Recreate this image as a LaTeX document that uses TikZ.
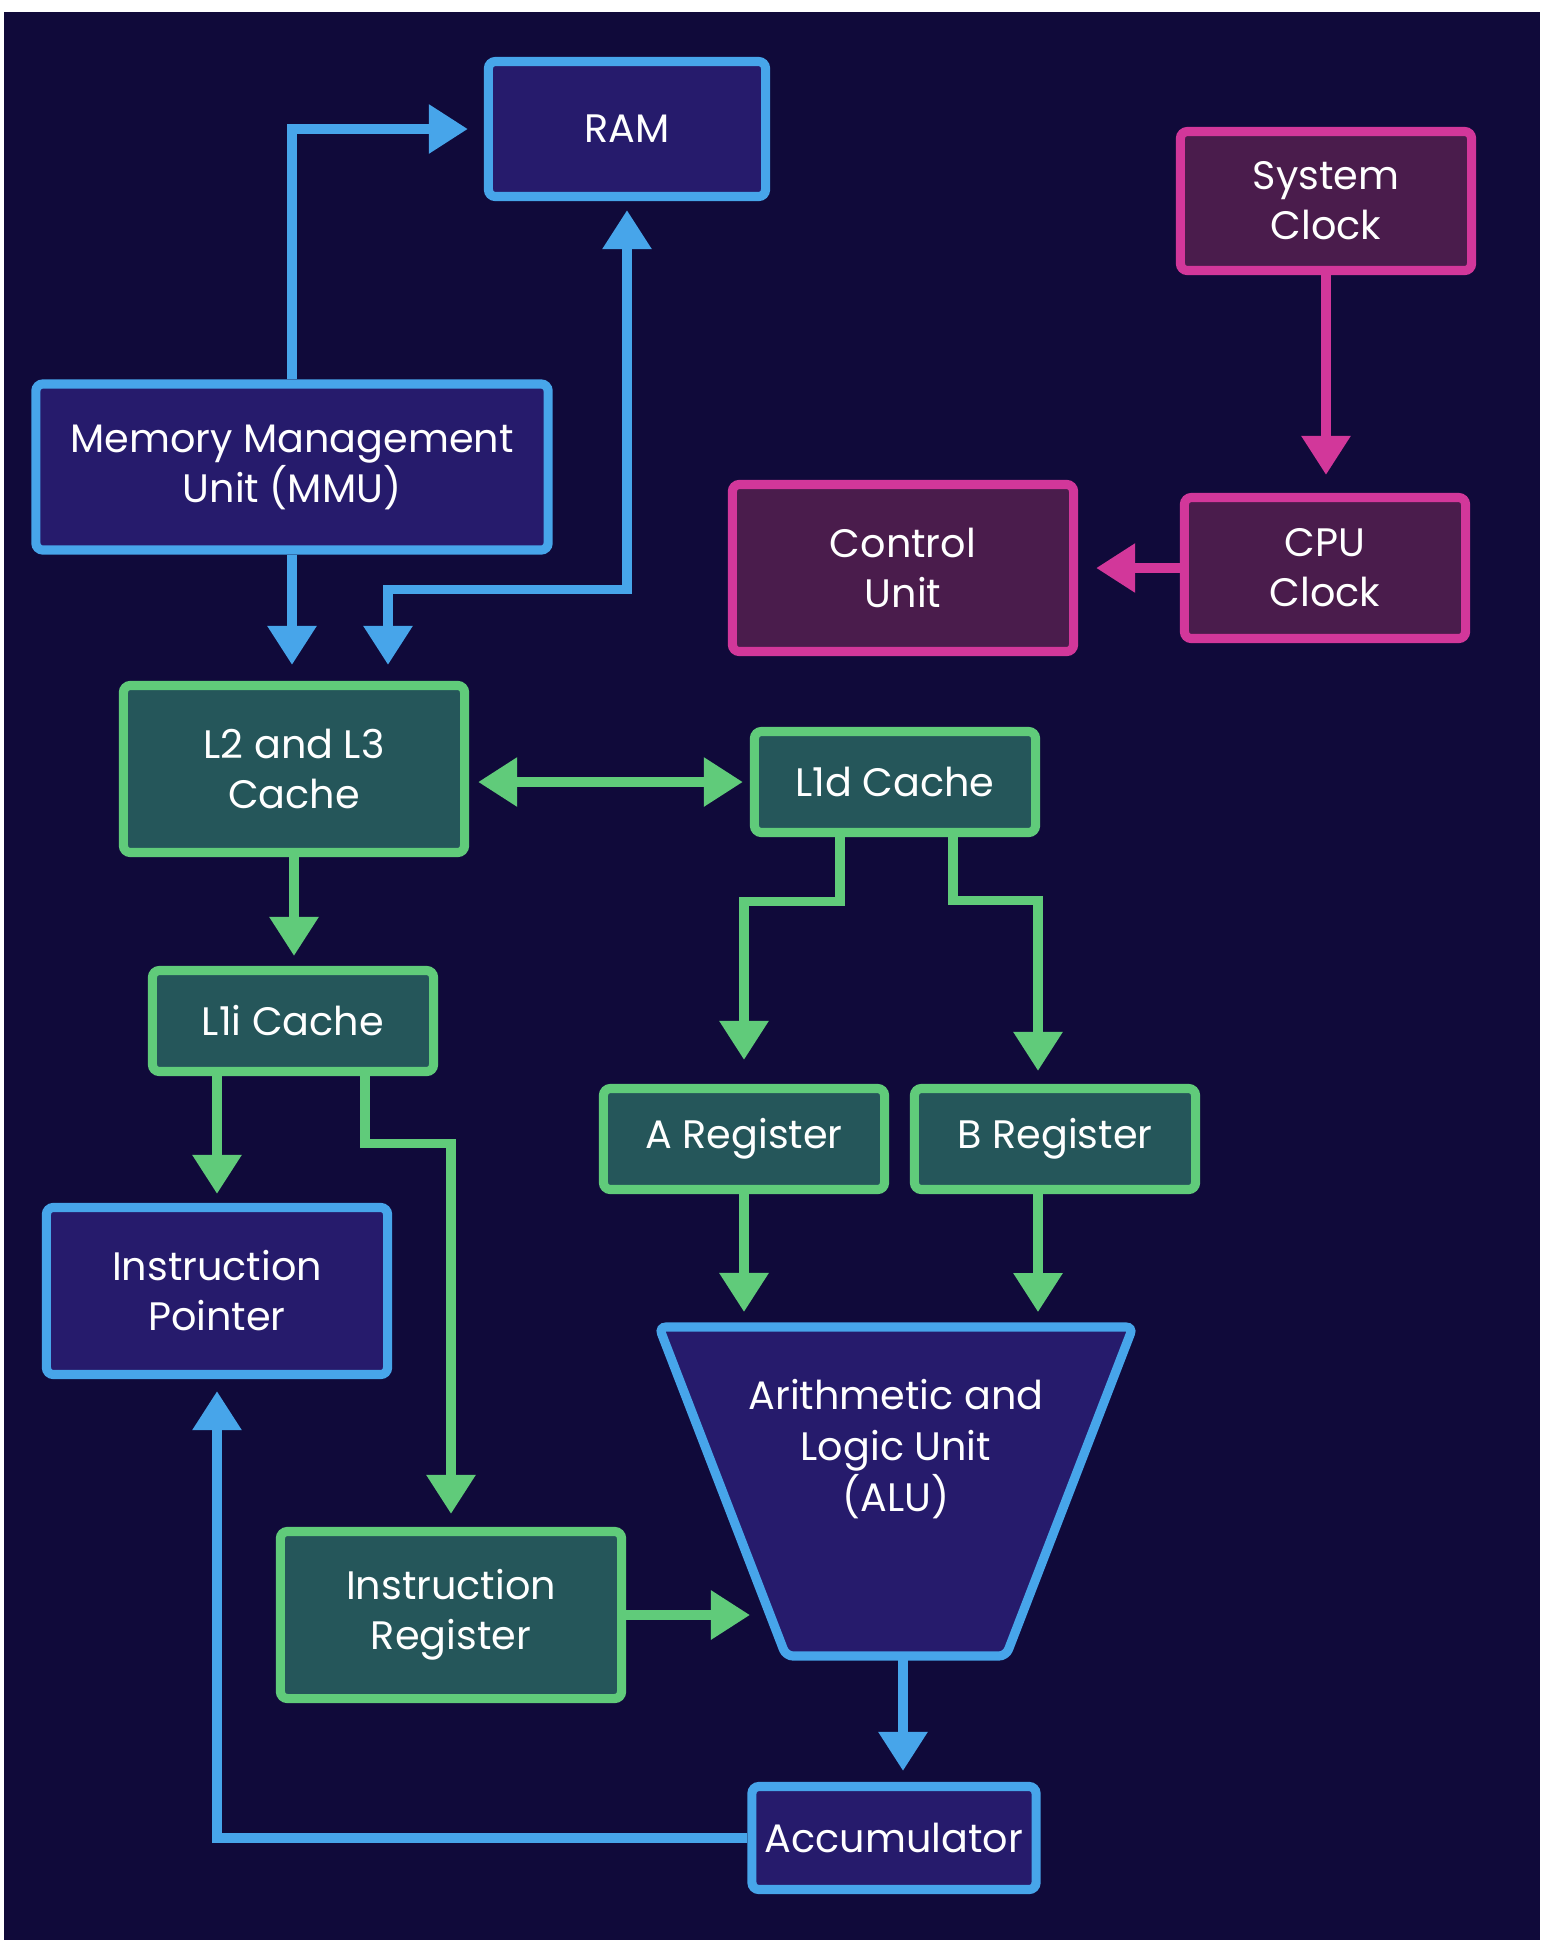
\documentclass[tikz,border=0pt]{standalone}
\usepackage{fontspec}
\setmainfont{Poppins}
\usepackage{tikz}
\usetikzlibrary{arrows.meta, calc}

\definecolor{bgnavy}{HTML}{100A3A}
\definecolor{bluefill}{HTML}{261B6C}
\definecolor{blueline}{HTML}{47A5EA}
\definecolor{greenfill}{HTML}{25565A}
\definecolor{greenline}{HTML}{60CB7A}
\definecolor{pinkfill}{HTML}{4A1C4C}
\definecolor{pinkline}{HTML}{D2379A}

\begin{document}
\begin{tikzpicture}[
    x=0.01cm, y=-0.01cm,
    >={Triangle[length=0.39cm, width=0.47cm]},
    box/.style={
      rectangle, rounded corners=2pt, line width=2.6pt,
      text=white, align=center, inner sep=0pt,
      font=\fontsize{11.3}{14.2}\selectfont
    },
    bbox/.style={box, draw=blueline, fill=bluefill},
    gbox/.style={box, draw=greenline, fill=greenfill},
    pbox/.style={box, draw=pinkline, fill=pinkfill},
    big/.style={minimum width=3.41cm, minimum height=1.67cm},
    small/.style={minimum width=2.81cm, minimum height=1.01cm},
    arr/.style={->, line width=2.6pt},
    arrboth/.style={<->, line width=2.6pt},
    barr/.style={arr, draw=blueline},
    garr/.style={arr, draw=greenline},
    parr/.style={arr, draw=pinkline}
  ]
  % background
  \useasboundingbox (0,0) rectangle (1544,1944);
  \fill[white] (0,0) rectangle (1544,1944);
  \fill[bgnavy] (4,12) rectangle (1540,1940);

  % memory
  \node[bbox, minimum width=2.77cm, minimum height=1.35cm] (ram) at (627,129) {RAM};
  \node[bbox, minimum width=5.12cm, minimum height=1.66cm] (mmu) at (292,467)
        {Memory Management\\Unit (MMU)};

  % clocks
  \node[pbox, minimum width=2.91cm, minimum height=1.39cm] (sysclk) at (1326,201)
        {System\\Clock};
  \node[pbox, minimum width=2.81cm, minimum height=1.41cm] (cpuclk) at (1325,568)
        {CPU\\Clock};
  \node[pbox, big] (ctrl) at (903,568) {Control\\Unit};

  % caches and registers
  \node[gbox, big] (l2) at (294,769) {L2 and L3\\Cache};
  \node[gbox, small] (l1d) at (895,782) {L1d Cache};
  \node[gbox, small] (l1i) at (293,1021) {L1i Cache};
  \node[gbox, small] (areg) at (744,1139) {A Register};
  \node[gbox, small] (breg) at (1055,1139) {B Register};
  \node[bbox, big] (ip) at (217,1291) {Instruction\\Pointer};
  \node[gbox, big] (ir) at (451,1615) {Instruction\\Register};

  % ALU
  \draw[line width=2.6pt, rounded corners=2pt, draw=blueline, fill=bluefill]
    (659,1327) -- (1133,1327) -- (1006,1656) -- (786,1656) -- cycle;
  \node[box, font=\fontsize{11.3}{14.5}\selectfont] (alu) at (896,1449)
        {Arithmetic and\\Logic Unit\\(ALU)};
  \coordinate (alutop) at (897,1323);
  \coordinate (aluleft) at (762,1615);
  \coordinate (alubot) at (903,1660);

  \node[bbox, small, minimum width=2.84cm, minimum height=1.03cm] (acc) at (894,1838)
        {Accumulator};

  \draw[barr, shorten >=0.16cm] (mmu.north) |- (ram.west);
  \draw[arrboth, draw=blueline, shorten <=0.09cm, shorten >=0.16cm]
    (ram.south) -- ++(0,388) -| ($(l2.north)+(94,0)$);
  \draw[barr, shorten >=0.16cm] (mmu.south) -- (mmu.south |- l2.north);

  \draw[parr, shorten >=0.18cm] (sysclk.south) -- (sysclk.south |- cpuclk.north);
  \draw[parr, shorten >=0.18cm] (cpuclk.west) -- (cpuclk.west -| ctrl.east);

  \draw[arrboth, draw=greenline, shorten <=0.09cm, shorten >=0.07cm]
    (l2.east |- l1d.west) -- (l1d.west);
  \draw[garr, shorten >=0.10cm] (l2.south) -- (l2.south |- l1i.north);
  \draw[garr, shorten >=0.24cm] ($(l1d.south)+(-55,0)$) -- ++(0,64) -| (areg.north);
  \draw[garr, shorten >=0.13cm] ($(l1d.south)+(58,0)$) -- ++(0,63)
    -| ($(breg.north)+(-17,0)$);
  \draw[garr, shorten >=0.09cm] (l1i.south -| ip.north) -- (ip.north);
  \draw[garr, shorten >=0.13cm] ($(l1i.south)+(72,0)$) -- ++(0,67) -| (ir.north);

  \draw[garr, shorten >=0.11cm] (areg.south) -- (areg.south |- alutop);
  \draw[garr, shorten >=0.11cm] ($(breg.south)+(-17,0)$) -- ++(0,129);
  \draw[garr, shorten >=0.12cm] (ir.east) -- (aluleft);
  \draw[barr, shorten >=0.11cm] (alubot) -- (alubot |- acc.north);
  \draw[barr, shorten >=0.12cm] (acc.west) -| (ip.south);
\end{tikzpicture}
\end{document}
